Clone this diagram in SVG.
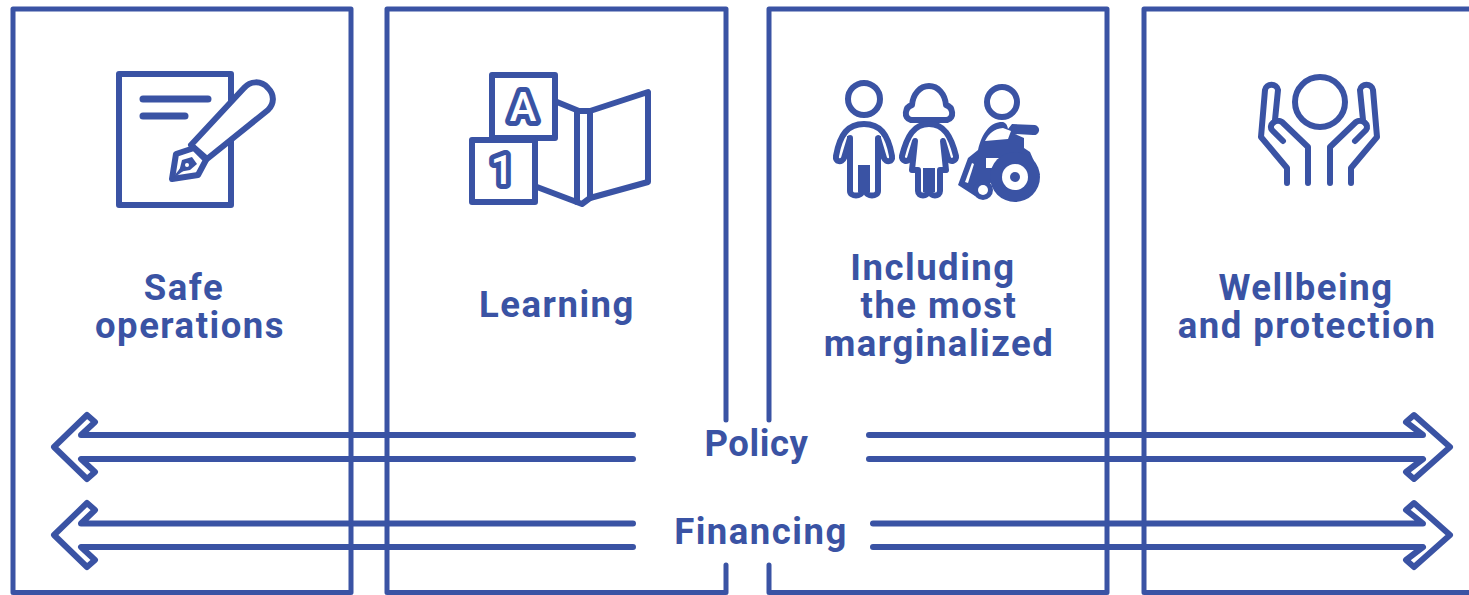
<svg xmlns="http://www.w3.org/2000/svg" width="1469" height="595" viewBox="0 0 1469 595">
<style>
.l{fill:none;stroke:#3A53A4;stroke-width:5;stroke-linejoin:round;stroke-linecap:round}
.i{fill:none;stroke:#3A53A4;stroke-width:6;stroke-linejoin:round;stroke-linecap:round}
.w{fill:#fff}
.b{fill:#3A53A4;stroke:none}
.t{font-family:Roboto,"Liberation Sans",sans-serif;font-weight:700;font-size:36.500px;fill:#3A53A4;text-anchor:middle;letter-spacing:1.500px}
.g{font-family:Roboto,"Liberation Sans",sans-serif;font-weight:500;font-size:40px;fill:#fff;stroke:#3A53A4;stroke-width:10px;text-anchor:middle;stroke-linejoin:round;paint-order:stroke}
.a{fill:none;stroke:#3A53A4;stroke-width:6;stroke-linejoin:round;stroke-linecap:round}
</style>
<rect width="1469" height="595" fill="#fff"/>
<g id="box-safe">
<path class="l" d="M351 9H13V592.500H351V9"/>
<path class="i" d="M119 74H231V205H119Z"/>
<path class="b" d="M143 95.500H208a3.500 3.500 0 0 1 0 7H143a3.500 3.500 0 0 1 0-7ZM143 112.500H185a3.500 3.500 0 0 1 0 7H143a3.500 3.500 0 0 1 0-7Z"/>
<path class="i w" d="M191 145L244 88C250 81 261 80 268 88C275 95 274 104 268 110L207 159Z"/>
<path class="i w" d="M176 154L194 148L206 160L198 175L172 179Z"/>
<path class="b" d="M171 180L185 162L190 166Z"/>
<path class="b" d="M179 172L182 160L192 157L197 164L190 170Z"/>
<circle class="w" cx="187" cy="165" r="2"/>
<text class="t" x="184" y="300">Safe</text>
<text class="t" x="190" y="338">operations</text>
</g>
<g id="box-learning">
<path class="l" d="M726 420V9H387V592.500H726V565"/>
<path class="i" d="M557 102L579 111L590 111L648 92V182L590 198L582 204L537 187"/>
<path class="i" d="M577 111V202M590 111V198"/>
<rect class="i w" x="492" y="75" width="63" height="63"/>
<rect class="i w" x="472" y="140" width="63" height="62"/>
<text class="g" x="523" y="121">A</text>
<text class="g" x="502" y="184">1</text>
<text class="t" x="557" y="317">Learning</text>
</g>
<g id="box-inclusion">
<path class="l" d="M769 420V9H1107V592.500H769V565"/>
<circle class="i" cx="864" cy="99" r="16"/>
<path class="i" d="M864 124C880 124 888 134 892 156C893 162 886 163 884 158L878 138V191C878 197 866 197 866 191V168H862V191C862 197 850 197 850 191V138L844 158C842 163 835 162 836 156C840 134 848 124 864 124Z"/>
<path class="b" d="M858 165H870V192H858ZM847 136L851 136V155L847 155ZM877 136L881 136V155L877 155Z"/>
<path class="i" d="M929 86C938 86 945 94 946 105C953 107 955 118 947 120H911C903 118 905 107 912 105C913 94 920 86 929 86Z"/>
<path class="i" d="M929 124C944 124 951 136 956 156C957 161 950 163 948 158L943 141L946 170H940V191C940 197 930 197 930 191V172H928V191C928 197 918 197 918 191V170H912L915 141L910 158C908 163 901 161 902 156C907 136 914 124 929 124Z"/>
<path class="b" d="M923 168H935V192H923Z"/>
<circle class="i" cx="1002" cy="102" r="15"/>
<path class="b" d="M1002 122C991 122 982 132 978 150L968 158L958 185L975 196L985 184L1000 181L1040 175L1030 152L1024 148L1024 138L1015 134L1033 135A5 5 0 0 0 1035 125L1012 124L1008 129C1007 124 1005 122 1002 122Z"/>
<path class="w" d="M985 141C989 133 994 129 1003 128L1011 131L1008 139Z"/>
<path class="w" d="M965 182L972 163L974 164L968 183Z"/>
<path class="w" d="M986 158H1001L1000 168H986Z"/>
<circle class="b" cx="1015" cy="177" r="25"/>
<circle class="w" cx="1015" cy="177" r="13"/>
<circle class="b" cx="1015" cy="177" r="5"/>
<circle class="b" cx="983" cy="190" r="10"/>
<circle class="w" cx="983" cy="190" r="5"/>
<text class="t" x="933" y="280">Including</text>
<text class="t" x="939" y="318">the most</text>
<text class="t" x="939" y="356">marginalized</text>
</g>
<g id="box-wellbeing">
<path class="l" d="M1471 9H1144V592.500H1471"/>
<circle class="i" cx="1320" cy="102" r="25"/>
<path class="i" d="M1287 183V168L1261 137L1265 90C1266 83 1277 83 1278 90L1275 120M1308 183V147L1282 122C1276 118 1268 125 1272 130L1283 141"/>
<path class="i" d="M1351 183V168L1377 137L1373 90C1372 83 1361 83 1360 90L1363 120M1330 183V147L1356 122C1362 118 1370 125 1366 130L1355 141"/>
<text class="t" x="1306" y="300">Wellbeing</text>
<text class="t" x="1307" y="338">and protection</text>
</g>
<g id="connectors">
<path class="a" d="M633 435H81L95 422L87 415L54 447L87 479L95 472L81 459H633"/>
<path class="a" d="M633 523.500H81L95 510L87 503L54 535L87 567L95 560L81 547H633"/>
<path class="a" d="M869 435H1423L1406 422L1414 415L1450 447L1414 479L1406 472L1423 459H869"/>
<path class="a" d="M873 523.500H1423L1406 510L1414 503L1450 535L1414 567L1406 560L1423 547H873"/>
</g>
<g id="label-policy"><text class="t" x="756.500" y="456" style="letter-spacing:.6px">Policy</text></g>
<g id="label-financing"><text class="t" x="761" y="544">Financing</text></g>
</svg>
